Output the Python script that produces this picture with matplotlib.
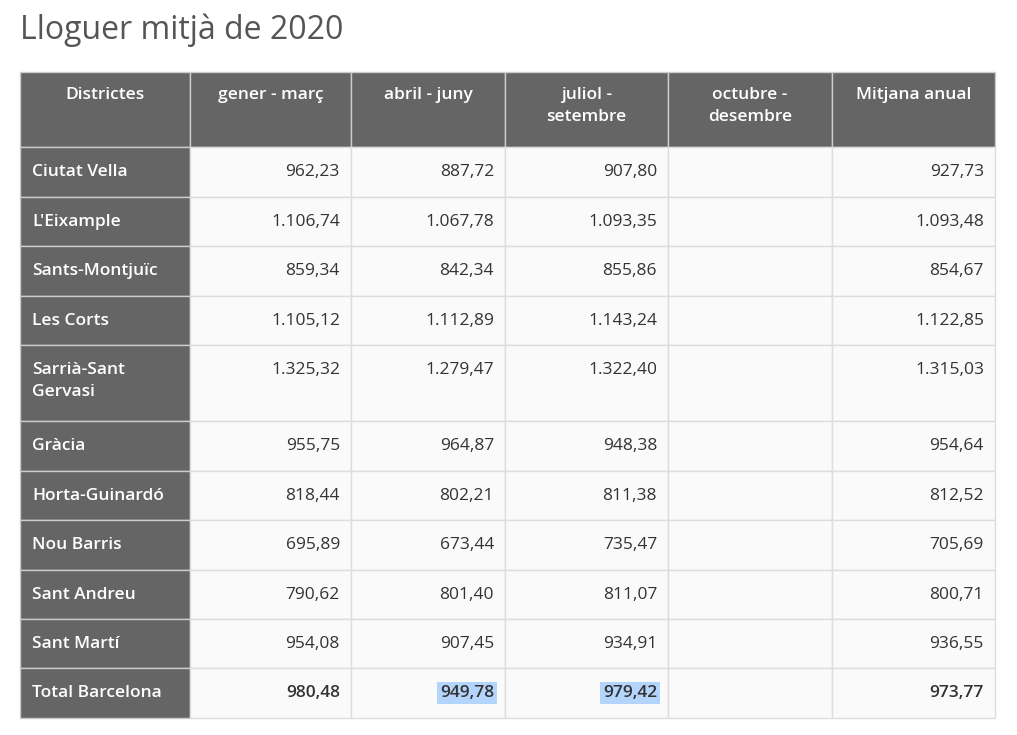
import matplotlib
matplotlib.use("Agg")
import matplotlib.pyplot as plt
from matplotlib.patches import Rectangle

title = "Lloguer mitjà de 2020"
headers = ["Districtes", "gener - març", "abril - juny", "juliol -\nsetembre", "octubre -\ndesembre", "Mitjana anual"]
districts = ["Ciutat Vella", "L'Eixample", "Sants-Montjuïc", "Les Corts", "Sarrià-Sant\nGervasi", "Gràcia",
             "Horta-Guinardó", "Nou Barris", "Sant Andreu", "Sant Martí", "Total Barcelona"]
q1 = ["962,23", "1.106,74", "859,34", "1.105,12", "1.325,32", "955,75", "818,44", "695,89", "790,62", "954,08", "980,48"]
q2 = ["887,72", "1.067,78", "842,34", "1.112,89", "1.279,47", "964,87", "802,21", "673,44", "801,40", "907,45", "949,78"]
q3 = ["907,80", "1.093,35", "855,86", "1.143,24", "1.322,40", "948,38", "811,38", "735,47", "811,07", "934,91", "979,42"]
q4 = [""] * 11
avg = ["927,73", "1.093,48", "854,67", "1.122,85", "1.315,03", "954,64", "812,52", "705,69", "800,71", "936,55", "973,77"]

plt.rcParams['font.family'] = ['Open Sans', 'DejaVu Sans']
fig = plt.figure(figsize=(10.17, 7.35), dpi=100)
ax = fig.add_axes([0, 0, 1, 1])
ax.set_xlim(0, 1017); ax.set_ylim(735, 0); ax.axis('off')

xs = [20, 190, 351, 505, 668, 832, 995]
ys = [72, 147, 197, 246, 296, 345, 421, 471, 520, 570, 619, 668, 718]
dark = "#656565"; border = "#dddddd"; light = "#fafafa"
fs = 12.5

ax.text(20, 30, title, fontsize=23, color="#555555", va='center', ha='left')

# header
for c in range(6):
    ax.add_patch(Rectangle((xs[c], ys[0]), xs[c+1]-xs[c], ys[1]-ys[0], fc=dark, ec="#cccccc", lw=1))
    ax.text((xs[c]+xs[c+1])/2, ys[0]+15, headers[c], color='white', fontsize=fs, fontweight='semibold',
            ha='center', va='top', linespacing=1.5)

cols = [q1, q2, q3, q4, avg]
for r in range(11):
    y0, y1 = ys[r+1], ys[r+2]
    bold = (r == 10)
    ax.add_patch(Rectangle((xs[0], y0), xs[1]-xs[0], y1-y0, fc=dark, ec="#cccccc", lw=1))
    ax.text(xs[0]+12, y0+17, districts[r], color='white', fontsize=fs, fontweight='semibold',
            ha='left', va='top', linespacing=1.5)
    for c, col in enumerate(cols):
        xa, xb = xs[c+1], xs[c+2]
        ax.add_patch(Rectangle((xa, y0), xb-xa, y1-y0, fc=light, ec=border, lw=1))
        if col[r]:
            t = ax.text(xb-11, y0+17, col[r], color='#333333', fontsize=fs,
                        fontweight='semibold' if bold else 'normal', ha='right', va='top')
            if bold and c in (1, 2):
                t.set_bbox(dict(fc="#b4d5fb", ec='none', pad=2))

fig.savefig("out.png", dpi=100)
